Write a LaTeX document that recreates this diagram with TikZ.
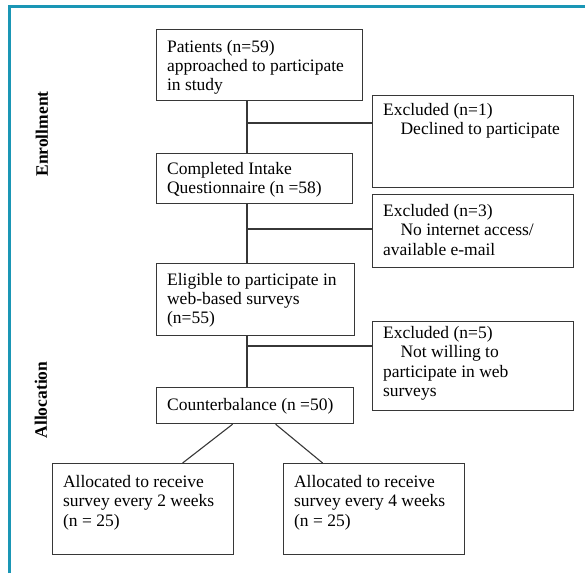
\documentclass[tikz,border=0pt]{standalone}
\usepackage{fontspec}
\setmainfont{Liberation Serif}
\usetikzlibrary{calc}
\definecolor{frameteal}{RGB}{26,150,181}
\definecolor{boxgray}{RGB}{55,55,55}

% width, height, first baseline, text
\newcommand{\boxtxt}[4]{\parbox[t][#2pt][t]{#1pt}{\raggedright\leftskip=10.5pt
  \vspace*{\dimexpr#3pt-12pt\relax}\rule{0pt}{12pt}#4}}

\tikzset{
  box/.style={draw=boxgray, line width=1.2pt, inner sep=0pt, anchor=north west,
    font=\fontsize{17.5}{19.2}\selectfont},
  link/.style={draw=boxgray, line width=1.1pt},
  side/.style={rotate=90, font=\fontsize{17.5}{19.2}\selectfont\bfseries},
}

\begin{document}
\begin{tikzpicture}[x=1pt,y=-1pt]
    \useasboundingbox (0,0) rectangle (585,573);
    % frame
    \draw[frameteal, line width=3pt] (9,573) -- (9,6.7) -- (585,6.7);

    % phases
    \node[side] (enr) at (42,134) {Enrollment};
    \node[side] (alloc) at (41,400) {Allocation};

    % main column
    \node[box] (p1) at (156,29) {\boxtxt{206}{71}{22.5}{Patients (n=59)\\approached to participate\\in study}};
    \node[box] (p2) at (156,152.5) {\boxtxt{196}{50}{21}{Completed Intake\\Questionnaire (n =58)}};
    \node[box] (p3) at (156,262.5) {\boxtxt{198}{72}{22}{Eligible to participate in\\web-based surveys\\(n=55)}};
    \node[box] (cb) at (156,387) {\boxtxt{197}{36}{23}{Counterbalance (n =50)}};

    % excluded
    \node[box] (ex1) at (372,95) {\boxtxt{201}{92}{20}{Excluded (n=1)\\\hspace*{1em}Declined to participate}};
    \node[box] (ex2) at (372,194) {\boxtxt{201}{73}{22}{Excluded (n=3)\\\hspace*{1em}No internet access/\\available e-mail}};
    \node[box] (ex3) at (372,321) {\boxtxt{201}{89}{17}{Excluded (n=5)\\\hspace*{1em}Not willing to\\participate in web\\surveys}};

    % allocated
    \node[box] (a2) at (52,463) {\boxtxt{181}{91}{24}{Allocated to receive\\survey every 2 weeks\\(n = 25)}};
    \node[box] (a4) at (283,463) {\boxtxt{181}{91}{24}{Allocated to receive\\survey every 4 weeks\\(n = 25)}};

    % connectors
    \coordinate (sp) at (247,0);
    \coordinate (j1) at (247,123);
    \coordinate (j2) at (247,229);
    \coordinate (j3) at (247,346);
    \draw[link] (p1.south -| sp) -- (p2.north -| sp);
    \draw[link] (p2.south -| sp) -- (p3.north -| sp);
    \draw[link] (p3.south -| sp) -- (cb.north -| sp);
    \draw[link] (j1) -- (j1 -| ex1.west);
    \draw[link] (j2) -- (j2 -| ex2.west);
    \draw[link] (j3) -- (j3 -| ex3.west);
    \draw[link] ([xshift=-22.5pt]cb.south) -- ([xshift=39.5pt]a2.north);
    \draw[link] ([xshift=20.5pt]cb.south) -- ([xshift=-51.5pt]a4.north);
\end{tikzpicture}
\end{document}
